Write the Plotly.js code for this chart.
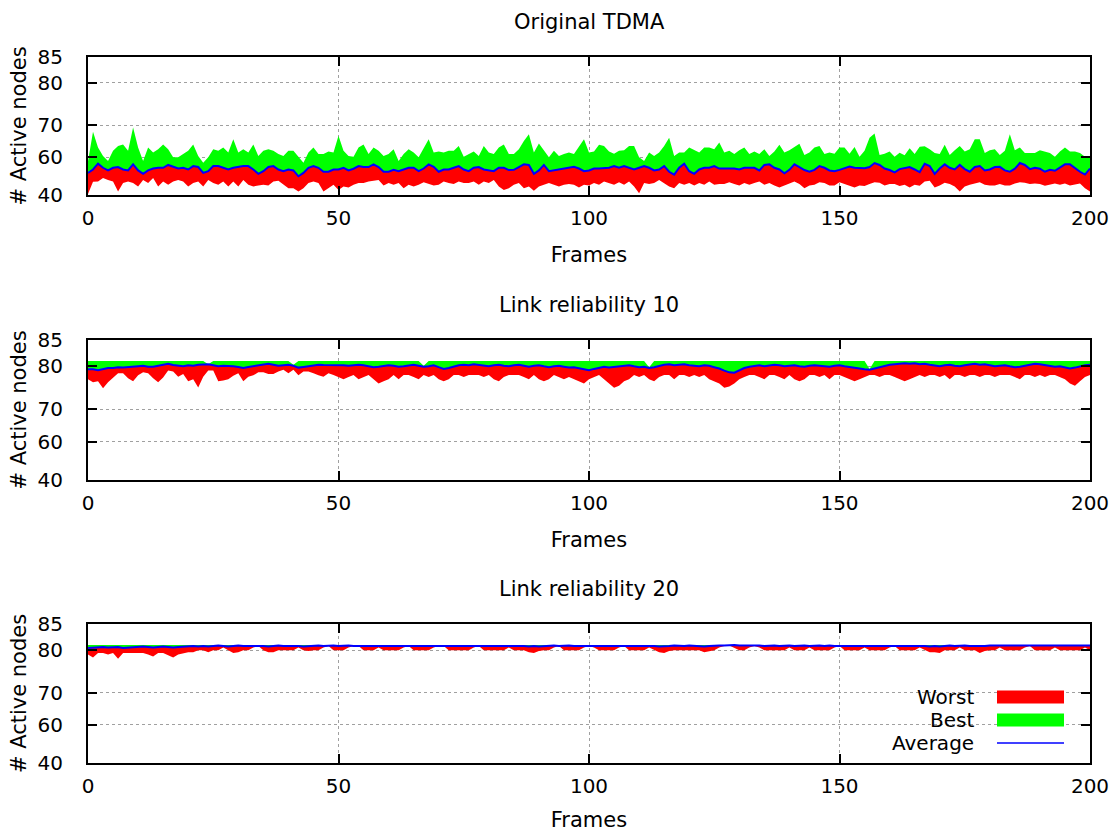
<!DOCTYPE html>
<html><head><meta charset="utf-8">
<script src="https://cdn.plot.ly/plotly-3.0.1.min.js"></script>
<style>html,body{margin:0;padding:0;background:#fff}#chart{width:1118px;height:832px}</style>
</head><body><div id="chart"></div>
<script>
// ---------- data ----------
const panelTitles = ['Original TDMA', 'Link reliability 10', 'Link reliability 20'];
const seriesNames = ['Worst', 'Best', 'Average'];
const xTicks = [0, 50, 100, 150, 200];
const yTickValues = [40, 60, 70, 80, 85];
const yTickLabels = ['40', '60', '70', '80', '85'];
const frames = Array.from({length: 201}, (_, i) => i); // frame index 0..200

// Panel 1: Original TDMA
const tdmaWorst = [40.5,47,47.2,49,48,47.2,41.8,46.3,47.2,46.3,44.5,48,46.3,49,44.5,47.2,45.4,47.2,48,47.2,44.5,46.3,47.2,44.5,48,46.3,45.4,47.2,44.5,47.2,44.5,48,45.4,44.5,
45,45.4,45,47.2,47.6,45.4,43.6,43.6,41.8,43.6,46.3,47.2,46.3,41.8,43.6,45.4,42.7,44.5,44,45.4,46.3,46.3,47.2,47.6,48,45,46.3,45.4,46.3,43.6,45.4,44.5,45.4,
46.8,45.8,45,45.4,47.2,46.3,45.8,47.2,46.3,46.3,47.2,45.4,47.2,46.3,48,44.5,42.7,43.6,45.4,46.3,43.6,44.5,42.2,44.5,45.4,46.3,45.4,44.5,45.4,45.8,45.4,44,45.4,
45,46.3,45.4,47.2,46.3,45.4,46.8,45.4,47.2,44.5,40.9,46.3,45.8,46.3,48,46.3,44.5,43.6,46.3,45.4,46.3,45,46.3,45.4,47.2,45.4,45.8,45.8,46.8,45.8,45,46.3,45.4,
46.3,47.2,45.4,46.3,45,44,45,46.3,47.2,45.8,43.6,45,45.4,46.8,46.3,45,45,46.8,45.8,44.7,44,45,44.7,45.8,46.8,46.5,45,45.8,45.8,44.7,45.4,44,45.4,
44.9,47.2,47.6,44,45,46.5,45.8,44.5,41.8,44.5,45.4,46.3,46.8,45.4,45,45,45.8,45,45,46.1,46.8,46.5,45.8,46.1,45.8,44.9,45.4,46.1,45.4,46.1,45,45.4,46.1,43.6,41.8];
const tdmaBest = [57.8,68,63,60.4,58,62,63.5,64,62,69.3,63,58,63,61.5,62.5,64,62.5,60,60,61,62,64,60.4,57,60,62.5,62,63,61.5,65.6,61.5,62.5,61.5,64,
60.4,62,62.5,62,61,60.4,62,62,60,57,61.5,63,61,61,61.8,61.5,66.7,62,60.4,60.1,63,64,61,63,62,60.4,61,62.5,58,61,62.5,61.5,60,
63,65.6,61.5,61.8,61.5,62,62,63.5,60.1,61,61.8,60.4,63.5,61.5,61,63,64,61,61,62.5,65.1,67.2,61.5,64.3,62,60,62,60.4,61,61.5,61,63.5,65.6,
61.5,61.8,63.9,63.5,61.8,61.1,62,62.2,63.5,63.5,60,58,61.5,60.4,61.5,63.5,66.1,60.4,61.5,61.5,63,62.2,61.5,63,63,62.5,64.6,61.5,62,61,62.2,63,61,
61.8,61,62.5,60.4,61.8,63.9,61.5,62.2,63.2,64.2,60.7,61.5,63,63.5,61,61.5,61.1,63,63,61.1,63.2,60.1,62,66.1,67.4,60.7,61.1,61.8,60.1,61.4,60.6,62.8,61,
63.3,63.4,62.5,61.3,61,63.9,60.7,62.2,63.5,61.8,62.5,65.6,65.6,61.3,62.2,62.5,60.7,62,67.2,62.2,63,61.3,61.3,61.3,62.2,61.8,61.3,60.1,61.8,63,61.8,61.8,61.3,60.1,60.4];
const tdmaAverage = [51.7,53.5,56.6,54.4,53,54.4,54.8,53.5,53,56.2,53,51.2,53,54,54.4,54.4,55.9,54.8,54,54.4,53.5,55.3,54.8,51.7,52.6,55.3,55.3,54.4,53.5,54.4,54.8,55.3,55.3,53.5,
51.2,52.6,54.8,55.3,53.5,52.6,53.5,53,49.9,51.7,54.4,55.3,54.4,52.3,52.3,53.5,53.5,54.4,53,53.9,55.3,54.8,54.8,56.2,54.8,52.3,52.3,53.3,52.6,53.5,54.4,54.4,52.6,
54,56.2,54.9,52.3,53.5,53.5,54.4,55.3,53.5,52.6,54.4,54.8,53.5,53,52.6,54.4,54.4,53.2,53.3,54.8,56.2,55.9,51.2,53,55.9,52.6,53,53.5,53.9,54.4,54.9,54,52.6,
53,54,54,54.4,54.4,55.3,54.4,55.3,54.4,53.5,54.4,55.3,54.4,53,53.5,55.3,52.3,50.8,54.4,56.6,52.6,51.2,53.5,54.4,54.4,55.3,54,54,54.4,54,53.5,54.4,54.4,
54.4,53,55.9,56.2,54.4,53.5,51.5,53.3,56.2,54.8,53.2,52.3,53.3,55.3,54.4,53,52.6,53.3,54,55.1,54.4,54.4,54.2,54.8,56.9,55.9,54,53.2,52,53.7,54.4,54.8,53.5,
52.1,56.5,55.3,51.2,54,56.2,54.4,53.5,55.9,53.7,52.3,54.8,55.3,53,53.5,54.8,54.9,53,52.3,53.9,56.9,55.9,53.7,54.4,53.9,52.3,53.3,52.8,54.4,56.2,56.2,54,52.3,50.8,54];

// Panel 2: Link reliability 10
const lr10Worst = [77,76.3,76.5,74.9,76.3,77.3,78.4,78.4,77.2,76.5,77.9,78.6,78.4,77.2,76.3,77.4,79,78.8,77.6,78.2,76.5,77,75.1,77.6,79,79,76.5,76.7,77,77.8,78.4,76.5,77.6,77.9,78.6,78.6,78.2,78.2,78.8,79.2,78.4,79.2,77.9,78.8,78.8,78.4,77.9,77.6,78.4,
78,77.5,77,77.5,78,77,77.5,78,
77,76,76.5,77,78,77,
78,78,77.5,77,78,77.5,78,77,
76.5,77,78,78,77.5,78,
78,78,77.5,78,77,76.5,77.5,78,78,
78,77.5,77,78,77,76.5,77,78,77.5,77,
77.5,77,76.5,76,77,77.5,78,77,
76,75,75.5,76.5,77,78,77.5,78,
77,76.5,77.5,78,78,77,78,78,77.5,
78,77.5,78,77,76.5,76,75,75.3,76,77,77.5,
78,78,77.5,77,78,78,77.5,77,78,77,76.5,77,78,78,
77.5,78,77,78,78,77.5,77,76.5,77,77.5,78,78,77.5,78,78,
77.5,77,76.5,77,77.5,78,77.5,78,78,77.5,78,77,78,78,77.5,
78,78,77.5,78,78,77.5,78,78,78,77.5,77,78,78,77.5,78,
77.5,78,78,77.5,77,76,75.5,76.5,77.5,78];
const lr10Best = [81,81,81,81,81,81,81,81,81,81,81,81,81,81,81,81,81,81,81,81,81,81,81,81,80.4,81,81,81,81,81,81,81,81,81,81,81,81,81,81,81,81,80.3,81,81,81,81,81,81,81,81,
81,81,81,81,81,81,81,81,81,81,81,81,81,81,81,81,81,80.1,81,81,81,81,81,81,81,81,81,81,81,81,81,81,81,81,81,81,81,81,81,81,81,81,81,81,81,81,81,81,81,81,
81,81,81,81,81,81,81,81,81,81,81,81,79.8,81,81,81,81,81,81,81,81,81,81,81,81,81,81,81,81,81,81,81,81,81,81,81,81,81,81,81,81,81,81,81,81,81,81,81,81,81,
81,81,81,81,81,81,79.4,81,81,81,81,81,81,81,81,81,81,81,81,81,81,81,81,81,81,81,81,81,81,81,81,81,81,81,81,81,81,81,81,81,81,81,81,81,81,81,81,81,81,81,81];
const lr10Average = [79.3,79.3,79.1,79.4,79.6,79.6,79.8,79.7,79.85,79.9,80,80.1,79.9,79.9,80.1,80.2,80.5,80.25,80.1,80,80.2,80.1,80.3,80.4,80.4,80.2,80,80.1,80.1,80,79.85,79.6,79.85,80,80.2,80.35,80.5,80.3,80.1,80.2,80.3,80.1,79.7,79.85,80,80.25,80.3,80.25,80.25,
80.2,80.3,80.2,80.1,80.2,80.3,80.2,80.0,
79.8,79.9,80.1,80.2,80.1,79.9,
80.0,80.2,80.3,80.1,79.9,80.0,80.2,79.8,
79.4,79.6,80.0,80.2,80.3,80.2,
80.4,80.3,80.1,80.0,80.2,80.3,80.1,80.0,80.2,
80.3,80.1,79.9,80.1,80.2,80.0,79.8,80.0,80.1,79.9,
79.7,79.8,79.6,79.3,79.1,79.4,79.7,79.9,
79.7,79.8,80.0,80.1,80.2,80.0,79.8,79.9,
79.6,79.8,80.1,80.3,80.4,80.2,80.3,80.4,80.2,
80.1,80.0,80.2,80.1,79.8,79.5,79.0,78.6,78.5,79.0,79.6,
79.9,80.1,80.2,80.0,80.1,80.3,80.2,80.0,80.1,80.2,80.0,79.9,80.1,80.2,
80.1,80.0,79.9,80.1,80.2,80.0,79.8,79.6,79.5,79.3,79.2,79.5,79.8,80.1,80.3,
80.4,80.5,80.6,80.5,80.6,80.4,80.5,80.3,80.1,80.0,80.2,80.3,80.1,80.0,80.2,
80.4,80.5,80.3,80.4,80.2,80.0,80.1,80.2,80.0,79.8,79.9,80.1,80.3,80.5,80.4,
80.2,80.0,79.9,80.0,79.8,79.5,79.7,80.0,80.2,80.3];

// Panel 3: Link reliability 20
const lr20Worst = [79,78.3,79.3,79.3,79,79.3,78,79.3,79.3,79.3,79.3,79.3,79,78.5,79.3,79.3,78.8,78.3,79,79.3,79.5,
79.5,80,80,79.5,80,80,80.5,80,79.3,79.5,80,80,80.5,80.8,80,79.5,79.5,80,80,80,
80,80.5,80,79.8,80,80,80.5,80.8,80,80,80,80.5,80.8,80.8,80,80,80,80.5,80,80,
80,80,80.5,80.8,80,80,80,80,80.5,80.8,80.8,80,80,80,80,80,80.5,80.8,80,80,
80,80,80,80.5,80,80,80,79.5,79.3,79.8,80,80,80.5,80.8,80,80,80,80,80.5,80.8,
80.5,80,80,80,80,80.5,80.8,80,80,80,80,80.5,80,79.5,79.3,79.8,80,80,80,80,
80,80,79.5,79.8,80,80.5,80.8,80.9,80.5,80,80,80.5,80.8,80.5,80,80,80,80,80,80.5,
80,80,80,80.5,80,80,80,80,80.5,80.8,80,80,80,80,80.5,80,80,80,80,80.5,
80.8,80,80,80,80,80.5,80,79.5,79.5,79.3,80,80,80,80.5,80,80,80,79.3,79.8,80,
80,80.5,80,80,80,80,80.5,80.8,80,80,80,80,80.5,80,80,80,80,80,80.5,80];
const lr20Best = [81,81,81,81,81,81,81,81,81,81,81,81,81,81,81,81,81,81,81,81,81,81,81,81,81,81,81,81,81,81,81,81,81,81,81,81,81,81,81,81,81,81,81,81,81,81,81,81,81,81,
81,81,81,81,81,81,81,81,81,81,81,81,81,81,81,81,81,81,81,81,81,81,81,81,81,81,81,81,81,81,81,81,81,81,81,81,81,81,81,81,81,81,81,81,81,81,81,81,81,81,
81,81,81,81,81,81,81,81,81,81,81,81,81,81,81,81,81,81,81,81,81,81,81,81,81,81,81,81,81,81,81,81,81,81,81,81,81,81,81,81,81,81,81,81,81,81,81,81,81,81,
81,81,81,81,81,81,81,81,81,81,81,81,81,81,81,81,81,81,81,81,81,81,81,81,81,81,81,81,81,81,81,81,81,81,81,81,81,81,81,81,81,81,81,81,81,81,81,81,81,81,81];
const lr20Average = [80.4,80.5,80.5,80.6,80.5,80.5,80.6,80.4,80.5,80.6,80.6,80.7,80.6,80.5,80.6,80.7,80.6,80.5,80.6,80.7,80.7,
80.8,80.7,80.8,80.7,80.8,80.9,80.8,80.7,80.8,80.9,80.8,80.8,80.9,80.9,80.8,80.7,80.8,80.9,80.8,80.8,
80.9,80.8,80.7,80.8,80.9,80.9,80.8,80.9,80.9,80.8,80.9,80.9,80.8,80.8,80.9,80.9,80.8,80.9,80.9,80.8,
80.8,80.9,80.9,80.8,80.9,80.9,80.8,80.9,80.9,80.9,80.8,80.8,80.9,80.9,80.8,80.9,80.9,80.8,80.9,80.9,
80.8,80.8,80.9,80.8,80.9,80.9,80.8,80.7,80.8,80.7,80.8,80.9,80.9,80.8,80.9,80.9,80.8,80.8,80.9,80.9,
80.8,80.9,80.9,80.8,80.9,80.9,80.8,80.9,80.9,80.8,80.9,80.9,80.8,80.7,80.7,80.8,80.9,80.8,80.8,80.9,
80.8,80.8,80.7,80.8,80.9,80.9,80.9,81.0,81.0,80.9,80.9,81.0,80.9,80.9,80.8,80.9,80.9,80.8,80.9,80.9,
80.8,80.9,80.9,80.8,80.9,80.9,80.8,80.9,80.8,80.8,80.9,80.8,80.9,80.9,80.8,80.9,80.8,80.8,80.9,80.9,
80.8,80.8,80.9,80.9,80.8,80.9,80.8,80.7,80.8,80.7,80.8,80.9,80.8,80.9,80.9,80.8,80.8,80.7,80.8,80.9,
80.9,80.8,80.9,80.9,80.8,80.9,80.9,80.8,80.9,80.8,80.8,80.9,80.9,80.8,80.9,80.9,80.8,80.9,80.9,80.9];

// ---------- y-axis scale (the reference uses a non-linear y scale) ----------
// fraction of the plot height at which each y tick value sits
const yTickFractions = [0, 0.274, 0.505, 0.812, 1];
function yScale(v) {
  const T = yTickValues, F = yTickFractions;
  if (v <= T[0]) return F[0] + (v - T[0]) * (F[1] - F[0]) / (T[1] - T[0]);
  for (let i = 0; i < T.length - 1; i++) {
    if (v <= T[i + 1]) return F[i] + (v - T[i]) * (F[i + 1] - F[i]) / (T[i + 1] - T[i]);
  }
  const n = T.length - 1;
  return F[n] + (v - T[n]) * (F[n] - F[n - 1]) / (T[n] - T[n - 1]);
}

const panels = [
  {worst: tdmaWorst, best: tdmaBest, avg: tdmaAverage},
  {worst: lr10Worst, best: lr10Best, avg: lr10Average},
  {worst: lr20Worst, best: lr20Best, avg: lr20Average}
];

const RED = '#ff0000', GREEN = '#00ff00', BLUE = '#0000ff';
const FONT = 'DejaVu Sans, Verdana, sans-serif';
const traces = [];
panels.forEach((p, i) => {
  const xa = i === 0 ? 'x' : 'x' + (i + 1);
  const ya = i === 0 ? 'y' : 'y' + (i + 1);
  traces.push({x: frames, y: p.worst.map(yScale), xaxis: xa, yaxis: ya, type: 'scatter', mode: 'lines',
    line: {width: 0, color: RED}, name: seriesNames[0], showlegend: false, hoverinfo: 'skip'});
  traces.push({x: frames, y: p.avg.map(yScale), xaxis: xa, yaxis: ya, type: 'scatter', mode: 'lines',
    fill: 'tonexty', fillcolor: RED, line: {width: 0, color: RED}, name: seriesNames[0], showlegend: false, hoverinfo: 'skip'});
  traces.push({x: frames, y: p.best.map(yScale), xaxis: xa, yaxis: ya, type: 'scatter', mode: 'lines',
    fill: 'tonexty', fillcolor: GREEN, line: {width: 0, color: GREEN}, name: seriesNames[1], showlegend: false, hoverinfo: 'skip'});
  traces.push({x: frames, y: p.avg.map(yScale), xaxis: xa, yaxis: ya, type: 'scatter', mode: 'lines',
    line: {width: 2, color: BLUE}, name: seriesNames[2], showlegend: false, hoverinfo: 'skip'});
});

const H = 706; // plot-area height in px (832 - 57 - 69)
const domains = [[568 / H, 1], [283 / H, 423 / H], [0, 139 / H]];
const titleY = [(763 - 22) / H, (763 - 305) / H, (763 - 589) / H];

const layout = {
  width: 1118, height: 832,
  margin: {l: 88, r: 28, t: 57, b: 69, pad: 0},
  paper_bgcolor: '#ffffff', plot_bgcolor: '#ffffff',
  font: {family: FONT, size: 20, color: '#000000'},
  showlegend: false,
  annotations: [],
  shapes: []
};

function xAxis(i) {
  return {
    domain: [0, 1], anchor: i === 0 ? 'y' : 'y' + (i + 1), range: [0, 200],
    tickmode: 'array', tickvals: xTicks, ticktext: xTicks.map(String),
    ticks: 'inside', ticklen: 9, tickwidth: 2, tickcolor: '#000',
    showline: true, linewidth: 2, linecolor: '#000', mirror: 'allticks',
    showgrid: true, gridcolor: '#a0a0a0', gridwidth: 1, griddash: 'dot', zeroline: false,
    tickfont: {family: FONT, size: 20, color: '#000'}, ticklabelstandoff: 4,
    title: {text: 'Frames', font: {family: FONT, size: 21, color: '#000'}, standoff: 18},
    automargin: false, fixedrange: true
  };
}
function yAxis(i) {
  return {
    domain: domains[i], anchor: i === 0 ? 'x' : 'x' + (i + 1), range: [0, 1],
    tickmode: 'array', tickvals: yTickValues.map(yScale), ticktext: yTickLabels,
    ticks: 'inside', ticklen: 9, tickwidth: 2, tickcolor: '#000',
    showline: true, linewidth: 2, linecolor: '#000', mirror: 'allticks',
    showgrid: true, gridcolor: '#a0a0a0', gridwidth: 1, griddash: 'dot', zeroline: false,
    tickfont: {family: FONT, size: 20, color: '#000'}, ticklabelstandoff: 19,
    title: {text: '# Active nodes', font: {family: FONT, size: 21, color: '#000'}, standoff: 5},
    automargin: false, fixedrange: true
  };
}
for (let i = 0; i < 3; i++) {
  const sx = i === 0 ? '' : String(i + 1);
  layout['xaxis' + sx] = xAxis(i);
  layout['yaxis' + sx] = yAxis(i);
  layout.annotations.push({text: panelTitles[i], xref: 'paper', yref: 'paper', x: 0.5, y: titleY[i],
    xanchor: 'center', yanchor: 'middle', showarrow: false, font: {family: FONT, size: 21, color: '#000'}});
}

// key (legend) drawn inside the bottom panel, text to the left of the sample as in the reference
const keyText = [seriesNames[0], seriesNames[1], seriesNames[2]];
const keyColors = [RED, GREEN, BLUE];
const keyRowY = [(763 - 697) / H, (763 - 720) / H, (763 - 743) / H];
for (let k = 0; k < 3; k++) {
  layout.annotations.push({text: keyText[k], xref: 'paper', yref: 'paper', x: (976 - 88) / 1002, y: keyRowY[k],
    xanchor: 'right', yanchor: 'middle', showarrow: false, font: {family: FONT, size: 20, color: '#000'}});
  if (k < 2) {
    layout.shapes.push({type: 'rect', xref: 'paper', yref: 'paper', x0: (997 - 88) / 1002, x1: (1064 - 88) / 1002,
      y0: keyRowY[k] - 6.5 / H, y1: keyRowY[k] + 6.5 / H, fillcolor: keyColors[k], line: {width: 0}, layer: 'above'});
  } else {
    layout.shapes.push({type: 'line', xref: 'paper', yref: 'paper', x0: (997 - 88) / 1002, x1: (1064 - 88) / 1002,
      y0: keyRowY[k], y1: keyRowY[k], line: {color: keyColors[k], width: 1.5}, layer: 'above'});
  }
}

Plotly.newPlot('chart', traces, layout, {staticPlot: true, displayModeBar: false});
</script>
</body></html>
